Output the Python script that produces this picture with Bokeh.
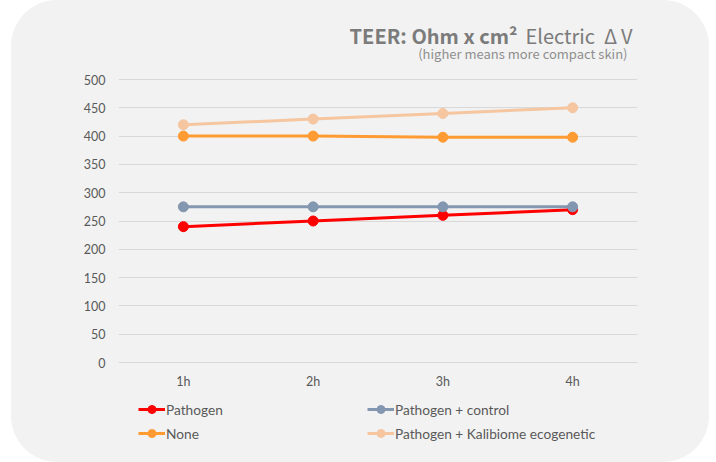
from bokeh.plotting import figure
from bokeh.models import FactorRange, Range1d, Legend, LegendItem, Label, FixedTicker
from bokeh.embed import file_html
from bokeh.resources import INLINE

times = ["1h", "2h", "3h", "4h"]
pathogen = [240, 250, 260, 270]
pathogen_control = [275, 275, 275, 275]
none_vals = [400, 400, 398, 398]
kalibiome = [420, 430, 440, 450]
series_names = ["Pathogen", "Pathogen + control", "None", "Pathogen + Kalibiome ecogenetic"]
series_values = [pathogen, pathogen_control, none_vals, kalibiome]
series_colors = ["#ff0000", "#8497b0", "#ff9b33", "#f5c6a0"]
y_ticks = [0, 50, 100, 150, 200, 250, 300, 350, 400, 450, 500]

BG = "#f2f2f2"
TXT = "#595959"

# The frame spans the whole card height (16..462 px) so that the title and
# legend, drawn inside it, are not clipped; the y range is chosen so that
# 0 lands at 362 px and 500 at 79 px, as in the reference.
H = 462
FRAME_TOP = 16
PX_PER_UNIT = (362 - 79) / 500
Y_START = -(H - 362) / PX_PER_UNIT
Y_END = 500 + (79 - FRAME_TOP) / PX_PER_UNIT

p = figure(width=698, height=H,
           x_range=FactorRange(*times, range_padding=0),
           y_range=Range1d(Y_START, Y_END),
           output_backend="svg", toolbar_location=None,
           min_border_left=107, min_border_right=72,
           min_border_top=FRAME_TOP, min_border_bottom=0)
p.styles = {"border-radius": "46px", "overflow": "hidden",
            "margin": "0 0 0 11px", "background-color": BG}
p.background_fill_alpha = 0
p.border_fill_alpha = 0
p.outline_line_color = None

p.yaxis.ticker = FixedTicker(ticks=y_ticks)
for ax in (p.xaxis[0], p.yaxis[0]):
    ax.axis_line_color = None
    ax.major_tick_line_color = None
    ax.minor_tick_line_color = None
    ax.major_tick_out = 0
    ax.major_tick_in = 0
    ax.minor_tick_out = 0
    ax.major_label_text_font = "Lato"
    ax.major_label_text_font_size = "12.5px"
    ax.major_label_text_color = TXT
p.xaxis.fixed_location = 0
p.yaxis.major_label_standoff = 13
p.xaxis.major_label_standoff = 11
p.xgrid.grid_line_color = None
p.ygrid.grid_line_color = "#d9d9d9"
p.ygrid.grid_line_width = 1

renderers = []
for name, vals, col in zip(series_names, series_values, series_colors):
    r = p.line(times, vals, line_color=col, line_width=3)
    c = p.scatter(times, vals, size=10, fill_color=col, line_color=col)
    renderers.append((name, [r, c]))

def make_legend(items, x):
    lg = Legend(items=[LegendItem(label=n, renderers=rs) for n, rs in items],
                location=(x, 19), orientation="vertical",
                background_fill_alpha=0, border_line_color=None,
                padding=0, margin=0, spacing=4,
                glyph_width=27, glyph_height=20, label_standoff=1,
                label_text_font="Lato", label_text_font_size="13.7px",
                label_text_color=TXT)
    p.add_layout(lg, "center")

make_legend([renderers[0], renderers[2]], 20)
make_legend([renderers[1], renderers[3]], 249)

title_bold = Label(x=399, y=427, x_units="screen", y_units="screen",
                   text="TEER: Ohm x cm²", text_font="Noto Sans CJK JP",
                   text_font_style="bold", text_font_size="20px",
                   text_color="#7b7b7b", text_align="right", text_baseline="alphabetic")
title_norm = Label(x=407, y=427, x_units="screen", y_units="screen",
                   text="Electric\u00a0\u00a0\u0394\u2009V", text_font="Noto Sans CJK JP",
                   text_font_size="20px",
                   text_color="#7b7b7b", text_align="left", text_baseline="alphabetic")
subtitle = Label(x=509, y=409, x_units="screen", y_units="screen",
                 text="(higher means more compact skin)", text_font="Noto Sans CJK JP",
                 text_font_size="13px",
                 text_color="#8f8f8f", text_align="right", text_baseline="alphabetic")
for lab in (title_bold, title_norm, subtitle):
    p.add_layout(lab)

open("out.html", "w").write(file_html(p, INLINE))
